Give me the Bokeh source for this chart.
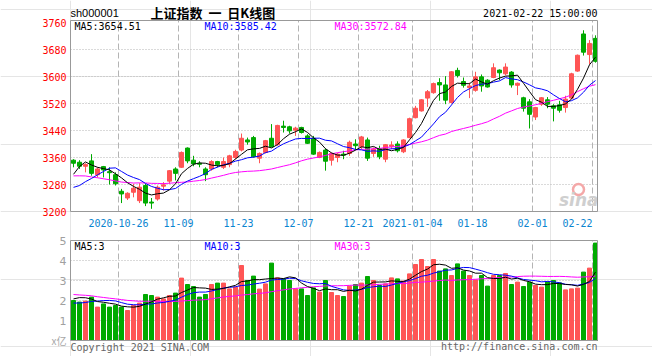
import pandas as pd
from bokeh.plotting import figure
from bokeh.models import Range1d, ColumnDataSource
from bokeh.core.properties import value
from bokeh.embed import file_html
from bokeh.resources import INLINE

# ---------------- data ----------------
holidays = ["2021-01-01", "2021-02-11", "2021-02-12", "2021-02-15", "2021-02-16", "2021-02-17"]
dates = [d.strftime("%Y-%m-%d") for d in pd.bdate_range("2020-10-14", "2021-02-22")
         if d.strftime("%Y-%m-%d") not in holidays]

open_ = [3352, 3346, 3334, 3350, 3309, 3333, 3318, 3309, 3260, 3240,
         3257, 3232, 3277, 3228, 3237, 3275, 3290, 3326, 3331, 3388,
         3352, 3343, 3326, 3326, 3348, 3331, 3339, 3360, 3382, 3412,
         3419, 3358, 3375, 3417, 3398, 3453, 3451, 3441, 3449, 3424,
         3417, 3360, 3382, 3352, 3360, 3370, 3372, 3400, 3392, 3412,
         3372, 3385, 3355, 3393, 3400, 3377, 3419, 3478, 3498, 3536,
         3552, 3582, 3575, 3523, 3618, 3585, 3567, 3559, 3599, 3589,
         3597, 3619, 3608, 3613, 3574, 3537, 3525, 3480, 3518, 3531,
         3513, 3516, 3508, 3536, 3616, 3726, 3665, 3713]
high = [3355, 3352, 3343, 3370, 3331, 3335, 3331, 3316, 3267, 3257,
        3282, 3284, 3282, 3240, 3277, 3287, 3323, 3331, 3378, 3390,
        3365, 3349, 3331, 3352, 3350, 3360, 3368, 3383, 3431, 3419,
        3424, 3375, 3412, 3459, 3457, 3469, 3454, 3451, 3451, 3429,
        3424, 3378, 3387, 3375, 3374, 3380, 3410, 3414, 3424, 3419,
        3390, 3395, 3400, 3408, 3408, 3414, 3478, 3513, 3533, 3560,
        3582, 3595, 3601, 3616, 3626, 3597, 3582, 3614, 3606, 3592,
        3639, 3621, 3639, 3616, 3582, 3540, 3533, 3510, 3539, 3539,
        3518, 3528, 3543, 3611, 3665, 3737, 3708, 3722]
low = [3331, 3326, 3316, 3306, 3301, 3301, 3280, 3277, 3225, 3234,
       3242, 3225, 3216, 3208, 3232, 3262, 3282, 3292, 3329, 3343,
       3334, 3331, 3290, 3321, 3331, 3326, 3331, 3355, 3378, 3398,
       3360, 3343, 3372, 3390, 3395, 3434, 3431, 3424, 3431, 3400,
       3368, 3358, 3321, 3336, 3346, 3355, 3365, 3382, 3385, 3350,
       3362, 3355, 3346, 3385, 3375, 3373, 3417, 3476, 3496, 3510,
       3549, 3528, 3518, 3520, 3597, 3567, 3536, 3555, 3555, 3567,
       3595, 3589, 3604, 3567, 3545, 3496, 3446, 3471, 3513, 3506,
       3467, 3493, 3493, 3533, 3614, 3662, 3636, 3641]
close = [3343, 3334, 3339, 3313, 3326, 3323, 3315, 3282, 3252, 3254,
         3269, 3272, 3225, 3225, 3272, 3279, 3321, 3313, 3375, 3350,
         3341, 3340, 3309, 3348, 3339, 3348, 3365, 3378, 3417, 3406,
         3362, 3372, 3410, 3392, 3455, 3449, 3439, 3447, 3434, 3402,
         3370, 3375, 3349, 3372, 3370, 3367, 3405, 3395, 3421, 3358,
         3385, 3362, 3398, 3397, 3380, 3412, 3475, 3506, 3531, 3555,
         3579, 3575, 3530, 3614, 3603, 3574, 3572, 3599, 3572, 3569,
         3626, 3611, 3628, 3575, 3580, 3506, 3488, 3508, 3537, 3518,
         3506, 3500, 3533, 3608, 3663, 3672, 3698, 3645]
# volume, 亿
volume = [2.00, 1.92, 1.97, 2.17, 1.67, 1.83, 1.67, 1.75, 1.67, 1.50,
          1.75, 1.87, 2.30, 2.25, 2.17, 2.08, 2.25, 2.37, 3.12, 2.80,
          2.70, 2.17, 2.30, 2.80, 2.87, 2.87, 2.58, 2.67, 3.75, 3.00,
          3.22, 2.57, 2.83, 3.87, 3.13, 3.08, 3.00, 2.58, 2.58, 2.25,
          2.63, 2.42, 3.00, 2.40, 2.25, 2.20, 2.72, 2.80, 2.87, 3.20,
          3.00, 2.75, 2.83, 3.13, 3.08, 2.97, 3.33, 3.80, 4.05, 3.70,
          4.05, 3.47, 3.58, 3.25, 3.83, 3.47, 3.25, 3.03, 3.25, 2.72,
          3.25, 3.25, 3.35, 2.80, 2.92, 2.70, 2.92, 2.75, 2.67, 2.93,
          3.00, 2.88, 2.53, 2.58, 2.62, 3.42, 3.62, 4.87]
# sessions before the first visible day (needed for the moving averages)
prior_close = [3330, 3350, 3404, 3396, 3411, 3405, 3385, 3355, 3293, 3316,
               3255, 3235, 3260, 3279, 3296, 3284, 3270, 3338, 3317, 3274,
               3280, 3223, 3219, 3218, 3224, 3218, 3272, 3358, 3360]
prior_volume = [2.6, 2.5, 2.9, 3.1, 2.9, 2.8, 2.7, 2.8, 2.7, 2.4,
                2.5, 2.3, 2.2, 2.3, 2.3, 2.3, 2.2, 2.6, 2.2, 2.0,
                1.85, 1.75, 1.6, 1.55, 1.55, 1.6, 2.0, 2.5, 2.3]

code = "sh000001"
title = "上证指数\u00a0\u00a0一\u00a0\u00a0日K线图"
timestamp = "2021-02-22 15:00:00"
ma_price_labels = ["MA5:3654.51", "MA10:3585.42", "MA30:3572.84"]
ma_vol_labels = ["MA5:3", "MA10:3", "MA30:3"]
tick_dates = ["2020-10-26", "2020-11-09", "2020-11-23", "2020-12-07", "2020-12-21",
              "2021-01-04", "2021-01-18", "2021-02-01", "2021-02-22"]
tick_labels = ["2020-10-26", "11-09", "11-23", "12-07", "12-21",
               "2021-01-04", "01-18", "02-01", "02-22"]
price_ticks = [3200, 3280, 3360, 3440, 3520, 3600, 3680, 3760]
vol_ticks = [1, 2, 3, 4, 5]

# ---------------- derived ----------------
n = len(dates)
def ma(prior, vals, k):
    full = prior + vals
    off = len(prior)
    return [sum(full[off + i - k + 1: off + i + 1]) / k for i in range(len(vals))]

RED, GREEN = "#ff5555", "#00aa00"
colors = [RED if c >= o else GREEN for o, c in zip(open_, close)]
src = ColumnDataSource(dict(
    x=[i + 0.5 for i in range(n)],
    high=high, low=low,
    bt=[max(o, c) for o, c in zip(open_, close)],
    bb=[min(o, c) for o, c in zip(open_, close)],
    vol=volume, color=colors,
    ma5=ma(prior_close, close, 5), ma10=ma(prior_close, close, 10), ma30=ma(prior_close, close, 30),
    v5=ma(prior_volume, volume, 5), v10=ma(prior_volume, volume, 10), v30=ma(prior_volume, volume, 30),
))

# page-pixel helpers (layout only)
def XP(px):  # page x -> slot coordinate
    return (px - 70) / 6.0
def YP(py):  # page y -> price coordinate
    return 3200 + (211 - py) * 80.0 / 27.0
def VP(py):  # page y -> volume coordinate
    return (340 - py) / 20.0

W, H = 652, 356
p = figure(width=W, height=H, x_range=Range1d(XP(0), XP(W)),
           y_range=Range1d(YP(H), YP(0)), output_backend="svg",
           toolbar_location=None, x_axis_location=None, y_axis_location=None,
           min_border=0, title=None)
p.extra_y_ranges = {"vol": Range1d(VP(H), VP(0))}
p.outline_line_color = None
p.background_fill_color = "white"
p.border_fill_color = "white"

MONO = value("DejaVu Sans Mono")
FR = XP(597)
GRID = "#b4b4b4"
tick_idx = [dates.index(d) for d in tick_dates]

# grid lines
inner = price_ticks[1:-1]
p.segment(x0=[0] * len(inner), x1=[FR] * len(inner), y0=inner, y1=inner,
          line_color=GRID, line_dash="1 2", line_width=1)
vin = vol_ticks[:-1]
p.segment(x0=[0] * len(vin), x1=[FR] * len(vin), y0=vin, y1=vin,
          line_color=GRID, line_dash="1 2", line_width=1, y_range_name="vol")
p.segment(x0=tick_idx, x1=tick_idx, y0=[3200] * len(tick_idx), y1=[YP(20)] * len(tick_idx),
          line_color=GRID, line_dash="6 3", line_width=1)
p.segment(x0=tick_idx, x1=tick_idx, y0=[0] * len(tick_idx), y1=[5] * len(tick_idx),
          line_color=GRID, line_dash="6 3", line_width=1, y_range_name="vol")

# sina watermark
p.scatter(x=[XP(578)], y=[YP(189)], size=11, marker="circle", fill_color=None,
          line_color="#f4a8a8", line_width=2.5)
p.text(x=[XP(598)], y=[YP(199)], text=["sina"], text_font=value("DejaVu Sans"),
       text_font_style="bold italic", text_font_size="17px", text_color="#cfcfcf",
       text_align="right", text_baseline="middle")

# candles
p.segment(x0="x", y0="low", x1="x", y1="high", line_color="color", line_width=1, source=src)
p.vbar(x="x", width=4 / 6, top="bt", bottom="bb", fill_color="color",
       line_color="color", line_width=1, source=src)
p.line(x="x", y="ma30", line_color="#ff00ff", line_width=1, source=src)
p.line(x="x", y="ma10", line_color="#0000ff", line_width=1, source=src)
p.line(x="x", y="ma5", line_color="#000000", line_width=1, source=src)

# volume
p.vbar(x="x", width=4 / 6, top="vol", bottom=0, fill_color="color", line_color="color",
       line_width=1, source=src, y_range_name="vol")
p.line(x="x", y="v30", line_color="#ff00ff", line_width=1, source=src, y_range_name="vol")
p.line(x="x", y="v10", line_color="#0000ff", line_width=1, source=src, y_range_name="vol")
p.line(x="x", y="v5", line_color="#000000", line_width=1, source=src, y_range_name="vol")

# frames
p.quad(left=[0], right=[FR], bottom=[3200], top=[YP(20)], fill_color=None, line_color="#999999")
p.quad(left=[0], right=[FR], bottom=[0], top=[5], fill_color=None, line_color="#999999",
       y_range_name="vol")

# price axis labels
p.text(x=[XP(66)] * len(price_ticks), y=price_ticks, text=[str(t) for t in price_ticks],
       text_font=MONO, text_font_size="10px", text_color="#ff0000",
       text_align="right", text_baseline="middle")
# date labels
for k, (ix, lab) in enumerate(zip(tick_idx, tick_labels)):
    p.text(x=[ix], y=[YP(222)], text=[lab], text_font=MONO, text_font_size="10px",
           text_color="#0a84d0", text_align="right" if k == len(tick_idx) - 1 else "center",
           text_baseline="middle")
# volume axis labels
p.text(x=[XP(66)] * len(vol_ticks), y=vol_ticks, text=[str(t) for t in vol_ticks],
       text_font=value("DejaVu Sans"), text_font_size="11px", text_color="#a0a0a0",
       text_align="right", text_baseline="middle", y_range_name="vol")
p.text(x=[XP(66)], y=[VP(340)], text=["x亿"], text_font=value("Noto Sans CJK SC"),
       text_font_size="10px", text_color="#a8a8a8", text_align="right",
       text_baseline="middle", y_range_name="vol")

# MA labels
ma_cols = ["#000000", "#0000ff", "#ff00ff"]
ma_x = [XP(74), XP(204), XP(334)]
for lab, col, xx in zip(ma_price_labels, ma_cols, ma_x):
    p.text(x=[xx], y=[YP(26)], text=[lab], text_font=MONO, text_font_size="10px",
           text_color=col, text_align="left", text_baseline="middle")
for lab, col, xx in zip(ma_vol_labels, ma_cols, ma_x):
    p.text(x=[xx], y=[VP(246)], text=[lab], text_font=MONO, text_font_size="10px",
           text_color=col, text_align="left", text_baseline="middle", y_range_name="vol")

# header
p.text(x=[XP(70)], y=[YP(12.5)], text=[code], text_font=value("Liberation Sans"),
       text_font_size="11px", text_color="#000000", text_align="left", text_baseline="middle")
p.text(x=[XP(150)], y=[YP(12)], text=[title], text_font=value("Noto Sans CJK SC"),
       text_font_size="13px", text_font_style="bold", text_color="#000000",
       text_align="left", text_baseline="middle")
p.text(x=[XP(597)], y=[YP(12.5)], text=[timestamp], text_font=MONO, text_font_size="10px",
       text_color="#000000", text_align="right", text_baseline="middle")

# footer
p.text(x=[XP(70)], y=[VP(347)], text=["Copyright 2021 SINA.COM"], text_font=MONO,
       text_font_size="10px", text_color="#666666", text_align="left",
       text_baseline="middle", y_range_name="vol")
p.text(x=[XP(597)], y=[VP(346)], text=["http://finance.sina.com.cn"], text_font=MONO,
       text_font_size="10px", text_color="#666666", text_align="right",
       text_baseline="middle", y_range_name="vol")

open("out.html", "w").write(file_html(p, INLINE))
